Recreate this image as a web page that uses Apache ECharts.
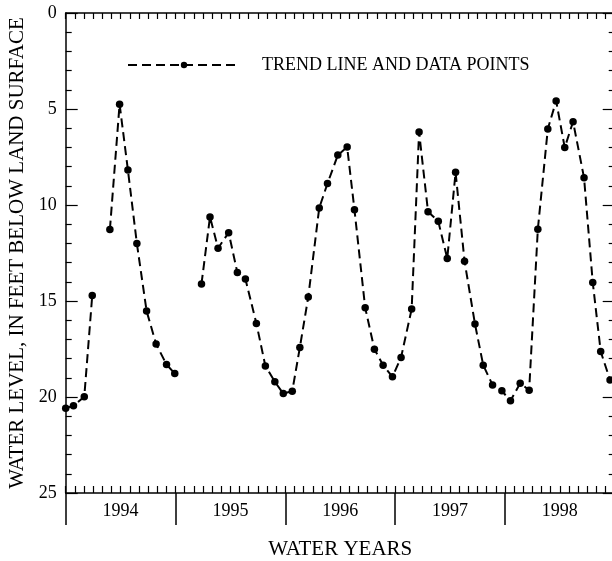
<!DOCTYPE html>
<html>
<head>
<meta charset="utf-8">
<script src="https://cdn.jsdelivr.net/npm/echarts@6/dist/echarts.min.js"></script>
<style>
html,body{margin:0;padding:0;background:#fff;}
#chart{width:612px;height:561px;}
</style>
</head>
<body>
<div id="chart"></div>
<script>
// Months since start of water year 1994 (Oct 1, 1993); null marks a gap in the record
var monthsSinceOct1993 = [
  0.0, 0.85, 2.03, 2.90, null,
  4.83, 5.89, 6.80, 7.78, 8.84, 9.88, 11.02, 11.92, null,
  14.84, 15.77, 16.65, 17.81, 18.76, 19.64, 20.84, 21.82, 22.86, 23.78,
  24.76, 25.59, 26.51, 27.71, 28.61, 29.74, 30.76, 31.56, 32.73, 33.74,
  34.69, 35.71, 36.65, 37.81, 38.62, 39.60, 40.72, 41.70, 42.61, 43.59,
  44.73, 45.63, 46.65, 47.67, 48.61, 49.67, 50.65, 51.60, 52.69, 53.60,
  54.54, 55.45, 56.65, 57.60, 58.47, 59.49
];
// Water level, feet below land surface
var waterLevelFt = [
  20.58, 20.46, 19.99, 14.72, null,
  11.28, 4.75, 8.18, 12.01, 15.52, 17.24, 18.31, 18.78, null,
  14.11, 10.62, 12.25, 11.44, 13.52, 13.85, 16.17, 18.38, 19.21, 19.82,
  19.70, 17.42, 14.79, 10.15, 8.88, 7.40, 6.98, 10.25, 15.35, 17.51,
  18.34, 18.95, 17.94, 15.42, 6.20, 10.35, 10.85, 12.79, 8.30, 12.93,
  16.20, 18.34, 19.37, 19.68, 20.20, 19.28, 19.65, 11.26, 6.04, 4.58,
  7.01, 5.66, 8.58, 14.03, 17.63, 19.11
];
var yearLabels = ['1994', '1995', '1996', '1997', '1998'];
var seriesName = 'TREND LINE AND DATA POINTS';

var seriesData = monthsSinceOct1993.map(function (m, i) {
  return (m === null || waterLevelFt[i] === null) ? ['-', '-'] : [m, waterLevelFt[i]];
});

var FONT = 'Liberation Serif, Times New Roman, serif';
var black = '#000';

var chart = echarts.init(document.getElementById('chart'), null, { renderer: 'canvas' });
chart.setOption({
  backgroundColor: '#fff',
  animation: false,
  grid: { left: 65.7, top: 13, width: 549, height: 480, containLabel: false, outerBoundsMode: 'none' },
  legend: {
    data: [seriesName],
    left: 127, top: 56,
    padding: 0,
    itemWidth: 112, itemHeight: 8,
    selectedMode: false,
    textStyle: { fontFamily: FONT, fontSize: 18, color: black, padding: [0, 0, 0, 17] }
  },
  xAxis: [
    { // year boundaries: long outward ticks + axis line
      type: 'value', position: 'bottom', min: 0, max: 60, interval: 12,
      axisLine: { show: true, onZero: false, lineStyle: { color: black, width: 1.5 } },
      axisTick: { show: true, inside: false, length: 32, lineStyle: { color: black, width: 1.5 } },
      axisLabel: { show: false }, splitLine: { show: false }
    },
    { // monthly inward ticks at bottom
      type: 'value', position: 'bottom', min: 0, max: 60, interval: 1,
      axisLine: { show: false, onZero: false },
      axisTick: { show: true, inside: true, length: 7, lineStyle: { color: black, width: 1.2 } },
      axisLabel: { show: false }, splitLine: { show: false }
    },
    { // year labels
      type: 'value', position: 'bottom', min: 0, max: 60, interval: 6,
      axisLine: { show: false, onZero: false }, axisTick: { show: false }, splitLine: { show: false },
      axisLabel: {
        show: true, margin: 9, fontFamily: FONT, fontSize: 18, color: black,
        formatter: function (v) {
          if (v % 12 === 6) { return yearLabels[(v - 6) / 12]; }
          return '';
        }
      },
      name: 'WATER YEARS', nameLocation: 'middle', nameGap: 46,
      nameTextStyle: { fontFamily: FONT, fontSize: 21, color: black }
    },
    { // top monthly ticks
      type: 'value', position: 'top', min: 0, max: 60, interval: 1,
      axisLine: { show: true, onZero: false, lineStyle: { color: black, width: 1.5 } },
      axisTick: { show: true, inside: true, length: 6, lineStyle: { color: black, width: 1.2 } },
      axisLabel: { show: false }, splitLine: { show: false }
    }
  ],
  yAxis: [
    {
      type: 'value', position: 'left', inverse: true, min: 0, max: 25, interval: 5,
      axisLine: { show: true, onZero: false, lineStyle: { color: black, width: 1.5 } },
      axisTick: { show: true, inside: true, length: 12, lineStyle: { color: black, width: 1.2 } },
      minorTick: { show: true, splitNumber: 5, length: 6, lineStyle: { color: black, width: 1.2 } },
      axisLabel: { show: true, margin: 9, fontFamily: FONT, fontSize: 18, color: black },
      splitLine: { show: false },
      name: 'WATER LEVEL, IN FEET BELOW LAND SURFACE', nameLocation: 'middle', nameGap: 33,
      nameRotate: 90,
      nameTextStyle: { fontFamily: FONT, fontSize: 21, color: black }
    },
    {
      type: 'value', position: 'right', inverse: true, min: 0, max: 25, interval: 5,
      axisLine: { show: true, onZero: false, lineStyle: { color: black, width: 1.5 } },
      axisTick: { show: true, inside: true, length: 12, lineStyle: { color: black, width: 1.2 } },
      minorTick: { show: true, splitNumber: 5, length: 6, lineStyle: { color: black, width: 1.2 } },
      axisLabel: { show: false }, splitLine: { show: false }
    }
  ],
  series: [{
    name: seriesName,
    type: 'line',
    xAxisIndex: 0, yAxisIndex: 0,
    data: seriesData,
    connectNulls: false,
    symbol: 'circle', symbolSize: 7.5,
    showAllSymbol: true,
    itemStyle: { color: black },
    lineStyle: { color: black, width: 2, type: [9, 5] },
    clip: false
  }]
});
</script>
</body>
</html>
